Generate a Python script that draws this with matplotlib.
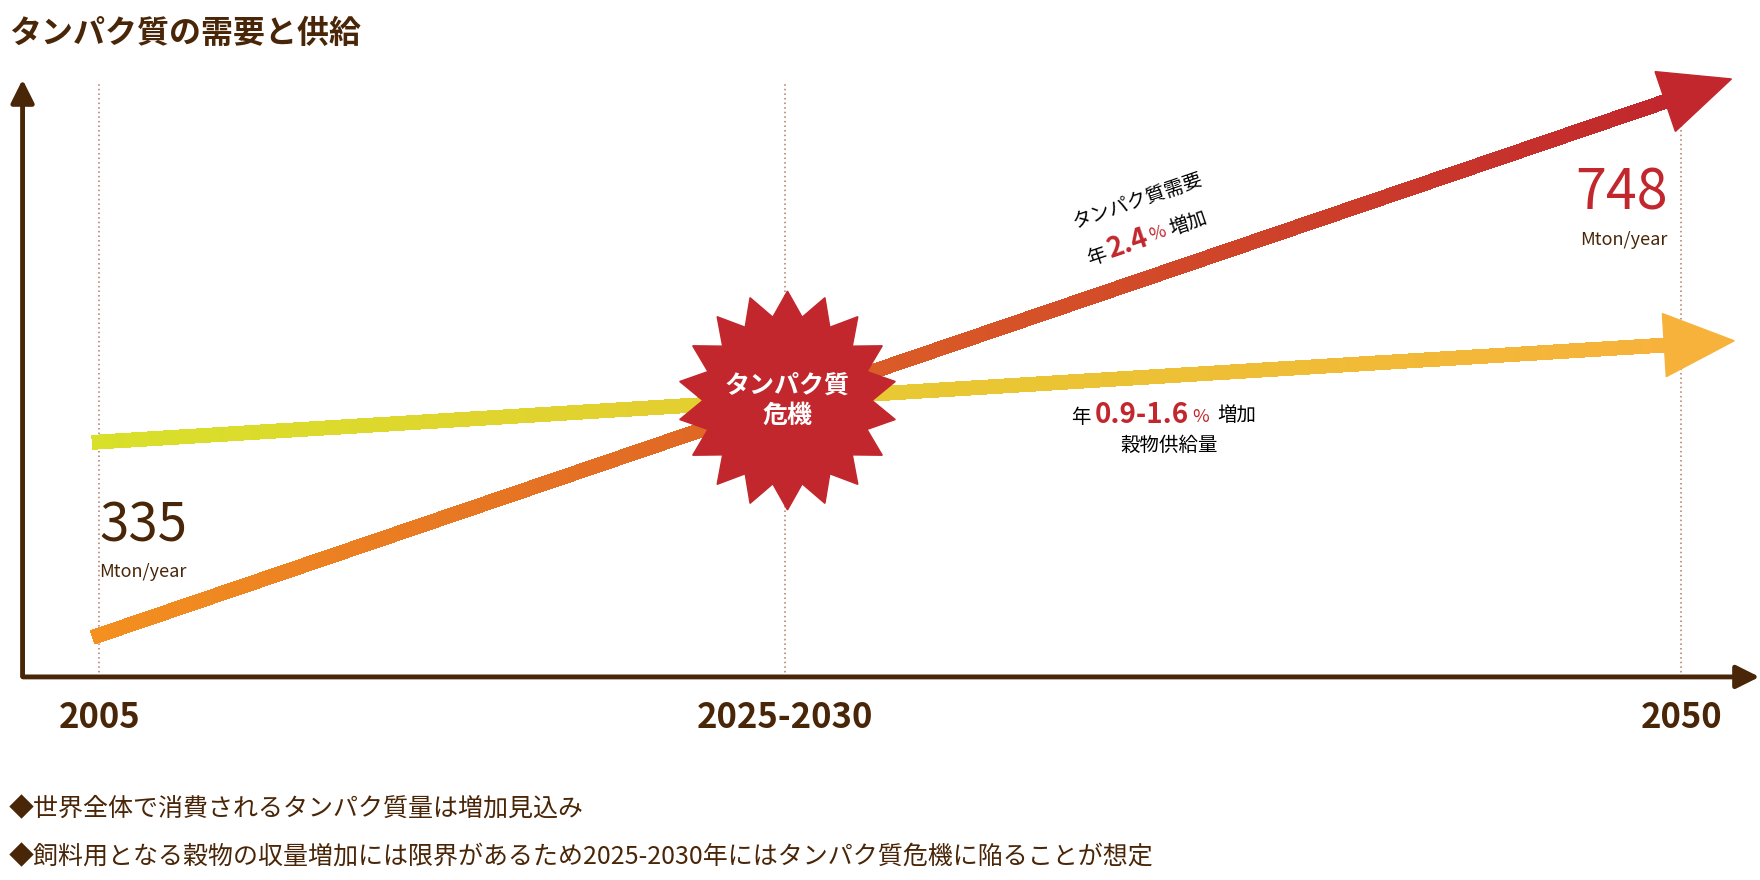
import numpy as np
import matplotlib
matplotlib.use("Agg")
import matplotlib.pyplot as plt
from matplotlib.collections import LineCollection
from matplotlib.patches import Polygon
import matplotlib.colors as mc

plt.rcParams['font.family'] = ['Noto Sans CJK JP', 'DejaVu Sans']

years = [2005, 2050]
tick_years = [2005, 2024.5, 2050]
tick_labels = ["2005", "2025-2030", "2050"]
demand = [335, 748]
supply = [483, 558]
title = "タンパク質の需要と供給"
notes = ["◆世界全体で消費されるタンパク質量は増加見込み",
         "◆飼料用となる穀物の収量増加には限界があるため2025-2030年にはタンパク質危機に陥ることが想定"]

BROWN = "#4a2608"
RED = "#c1272d"
W, H = 1560, 780
S = 1760 / W
fig = plt.figure(figsize=(17.6, 8.8), dpi=100)
ax = fig.add_axes([0, 0, 1, 1])
ax.set_xlim(2002.18, 2052.24)
ax.set_ylim(147.4, 821.6)
ax.axis('off')

def P(x, y):
    return (x / W, 1 - y / H)

# axes arrows
ax.annotate('', xy=P(20, 68), xytext=P(20, 602), xycoords='figure fraction',
            arrowprops=dict(arrowstyle='-|>,head_length=1.4,head_width=0.7', color=BROWN, lw=3.5))
ax.annotate('', xy=P(1562, 600), xytext=P(18, 600), xycoords='figure fraction',
            arrowprops=dict(arrowstyle='-|>,head_length=1.4,head_width=0.7', color=BROWN, lw=3.5))

# dotted guides
for t in tick_years:
    ax.plot([t, t], [303, 757], ls=(0, (1, 2)), color="#b07a60", lw=1.1, zorder=1)

for t, lab in zip(tick_years, tick_labels):
    ax.text(t, 272, lab, ha='center', va='center', fontsize=25, fontweight='bold', color=BROWN)

def grad_arrow(vals, c0, c1):
    n = 300
    xs = np.linspace(years[0], years[1], n)
    ys = np.linspace(vals[0], vals[1], n)
    pts = np.array([xs, ys]).T.reshape(-1, 1, 2)
    segs = np.concatenate([pts[:-1], pts[1:]], axis=1)
    cmap = mc.LinearSegmentedColormap.from_list('g', [c0, c1])
    lc = LineCollection(segs, colors=cmap(np.linspace(0, 1, n - 1)), linewidths=10,
                        capstyle='projecting', antialiaseds=False, zorder=3)
    ax.add_collection(lc)
    d0 = ax.transData.transform((years[0], vals[0]))
    d1 = ax.transData.transform((years[1], vals[1]))
    u = (d1 - d0) / np.linalg.norm(d1 - d0)
    nrm = np.array([-u[1], u[0]])
    base = d1 - u * 15 * S
    tip = base + u * 62 * S
    tri = [base + nrm * 28 * S, tip, base - nrm * 28 * S]
    ax.add_patch(Polygon(tri, closed=True, transform=None, color=c1, zorder=4))
    return np.degrees(np.arctan2(u[1], u[0]))

ang_d = grad_arrow(demand, "#f39020", RED)
ang_s = grad_arrow(supply, "#d8e02a", "#f7b23b")

# starburst
cx, cy = P(698, 355)
ctr = np.array([cx * 1760, cy * 880])
npk = 18
r = []
for i in range(2 * npk):
    a = np.pi / 2 + i * np.pi / npk
    rad = (97 if i % 2 == 0 else 75) * S
    r.append(ctr + rad * np.array([np.cos(a), np.sin(a)]))
ax.add_patch(Polygon(r, closed=True, transform=None, color=RED, zorder=5))
fig.text(cx, cy, "タンパク質\n危機", ha='center', va='center', color='white',
         fontsize=18, fontweight='bold', linespacing=1.3, zorder=6)

# value labels
fig.text(*P(88, 466), str(demand[0]), fontsize=38, color=BROWN, ha='left', va='center')
fig.text(*P(88, 507), "Mton/year", fontsize=13, color=BROWN, ha='left', va='center')
fig.text(*P(1478, 172), str(demand[1]), fontsize=40, color=RED, ha='right', va='center')
fig.text(*P(1478, 213), "Mton/year", fontsize=13, color=BROWN, ha='right', va='center')

# demand rate labels
fig.text(*P(1008, 178), "タンパク質需要", fontsize=14, rotation=ang_d, ha='center', va='center')
fig.text(*P(972, 228), "年", fontsize=14, rotation=ang_d, ha='center', va='center')
fig.text(*P(1000, 216), "2.4", fontsize=20, rotation=ang_d, ha='center', va='center', color=RED, fontweight='bold')
fig.text(*P(1026, 207), "%", fontsize=13, rotation=ang_d, ha='center', va='center', color=RED)
fig.text(*P(1053, 198), "増加", fontsize=14, rotation=ang_d, ha='center', va='center')

# supply rate labels
fig.text(*P(958, 370), "年", fontsize=14, ha='center', va='center')
fig.text(*P(1012, 368), "0.9-1.6", fontsize=20, ha='center', va='center', color=RED, fontweight='bold')
fig.text(*P(1064, 370), "%", fontsize=13, ha='center', va='center', color=RED)
fig.text(*P(1096, 368), "増加", fontsize=14, ha='center', va='center')
fig.text(*P(1036, 395), "穀物供給量", fontsize=14, ha='center', va='center')

fig.text(*P(8, 30), title, fontsize=23, fontweight='bold', color=BROWN, ha='left', va='center')
fig.text(*P(8, 717), notes[0], fontsize=18, color=BROWN, ha='left', va='center')
fig.text(*P(8, 760), notes[1], fontsize=18, color=BROWN, ha='left', va='center')

fig.savefig("out.png", dpi=100)
